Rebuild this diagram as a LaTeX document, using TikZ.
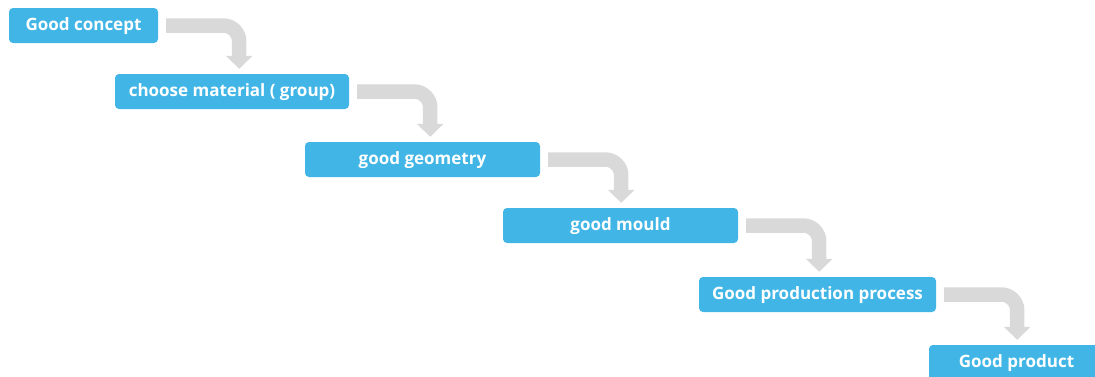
\documentclass[tikz,border=0pt]{standalone}
\usepackage{fontspec}
\setmainfont{Open Sans}
\usetikzlibrary{arrows.meta,calc}
\definecolor{boxblue}{HTML}{41B6E6}
\definecolor{flowgray}{HTML}{D9D9D9}
\begin{document}
\begin{tikzpicture}[x=1pt,y=-1pt,
  stepbox/.style={fill=boxblue, rounded corners=4pt, minimum height=35pt, inner sep=0pt,
    text=white, font=\fontsize{17}{19}\selectfont\bfseries, text height=12.5pt, text depth=3.5pt},
  flow/.style={draw=flowgray, line width=14.5pt, rounded corners=16pt,
    -{Triangle[width=26pt,length=13pt]}}]
\useasboundingbox (0,0) rectangle (1095,376);
\node[stepbox, minimum width=149pt] (b1) at (83.5,25.5) {Good concept};
\node[stepbox, minimum width=234pt] (b2) at (232,91.5) {choose material ( group)};
\node[stepbox, minimum width=235pt] (b3) at (422.5,159.5) {good geometry};
\node[stepbox, minimum width=235pt] (b4) at (620.5,225.5) {good mould};
\node[stepbox, minimum width=237pt] (b5) at (817.5,294.5) {Good production process};
\node[stepbox, minimum width=175pt] (b6) at (1016.5,362.5) {Good product};
\foreach \a/\b in {b1/b2,b2/b3,b3/b4,b4/b5,b5/b6}{
  \draw[flow] ($(\a.east)+(8,0)$) -| ($(\b.north -| \a.east)+(81,-5)$);
}
\end{tikzpicture}
\end{document}
